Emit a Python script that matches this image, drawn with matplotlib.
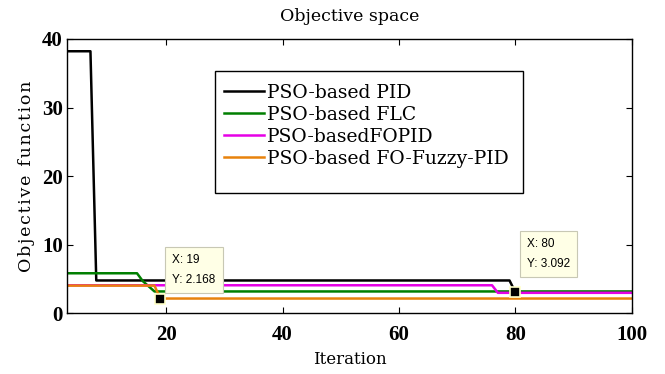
import numpy as np
import matplotlib
matplotlib.use('Agg')
import matplotlib.pyplot as plt
from matplotlib.patches import Rectangle

# breakpoints of each convergence curve (iteration, objective value)
pid_x = [3, 7, 8, 79, 80, 100]
pid_y = [38.2, 38.2, 4.8, 4.8, 3.092, 3.092]
flc_x = [3, 15, 16, 18, 100]
flc_y = [5.85, 5.85, 4.7, 3.2, 3.2]
fopid_x = [3, 76, 77, 100]
fopid_y = [4.1, 4.1, 3.0, 3.0]
fofuzzy_x = [3, 18, 19, 100]
fofuzzy_y = [4.05, 4.05, 2.168, 2.168]

labels = ['PSO-based PID', 'PSO-based FLC', 'PSO-basedFOPID', 'PSO-based FO-Fuzzy-PID']
colors = ['black', '#007f00', '#e600e6', '#e8820c']

tip_x = [19, 80]
tip_y = [2.168, 3.092]
xticks = [20, 40, 60, 80, 100]
yticks = [0, 10, 20, 30, 40]

serif = 'DejaVu Serif'
tnr = 'Liberation Serif'

fig = plt.figure(figsize=(6.65, 3.74), dpi=100)
ax = fig.add_axes([0.101, 0.162, 0.849, 0.734])

series = [(pid_x, pid_y), (flc_x, flc_y), (fopid_x, fopid_y), (fofuzzy_x, fofuzzy_y)]
for (xs, ys), lab, c in zip(series, labels, colors):
    ax.plot(xs, ys, color=c, lw=1.8, label=lab)

ax.set_xlim(3, 100)
ax.set_ylim(0, 40)
ax.set_xticks(xticks)
ax.set_yticks(yticks)
ax.tick_params(direction='in', top=True, right=True, length=4, width=0.8)
ax.tick_params(axis='y', pad=3)
ax.tick_params(axis='x', pad=8)
for lab in ax.get_xticklabels() + ax.get_yticklabels():
    lab.set_fontfamily(tnr)
    lab.set_fontweight('bold')
    lab.set_fontsize(15)
for s in ax.spines.values():
    s.set_linewidth(1.0)

ax.set_title('Objective space', family=serif, fontsize=12.5, pad=13)
ax.set_xlabel('Iteration', family=serif, fontsize=12, labelpad=5)
ylab = '\u200a'.join('Objective function')
ax.set_ylabel(ylab, family=serif, fontsize=12.5, labelpad=5)

# legend box (MATLAB style, extra room at the bottom)
ax.add_patch(Rectangle((0.2617, 0.439), 0.5457, 0.4455, transform=ax.transAxes,
                       fc='white', ec='black', lw=1.0, zorder=8))
leg = ax.legend(loc='upper left', bbox_to_anchor=(0.259, 0.874), borderaxespad=0,
                frameon=False, handlelength=2.13, handletextpad=0.2,
                borderpad=0.55, labelspacing=0.21,
                prop={'family': serif, 'size': 13.5})
leg.set_zorder(9)

offsets = [(8.6, 9.0), (8.3, 15.8)]
for tx, ty, off in zip(tip_x, tip_y, offsets):
    ax.plot(tx, ty, 's', color='black', ms=6.5, mec='#ffffc8', mew=1.2, zorder=5)
    ax.annotate('X: %d\nY: %.3f' % (tx, ty), xy=(tx, ty), xytext=off,
                textcoords='offset points', ha='left', va='bottom',
                family='Liberation Sans', fontsize=8.5, linespacing=1.9,
                bbox=dict(boxstyle='square,pad=0.6', fc='#ffffe6', ec='#c8c8b4', lw=0.8),
                zorder=6)

fig.savefig('out.png', dpi=100)
